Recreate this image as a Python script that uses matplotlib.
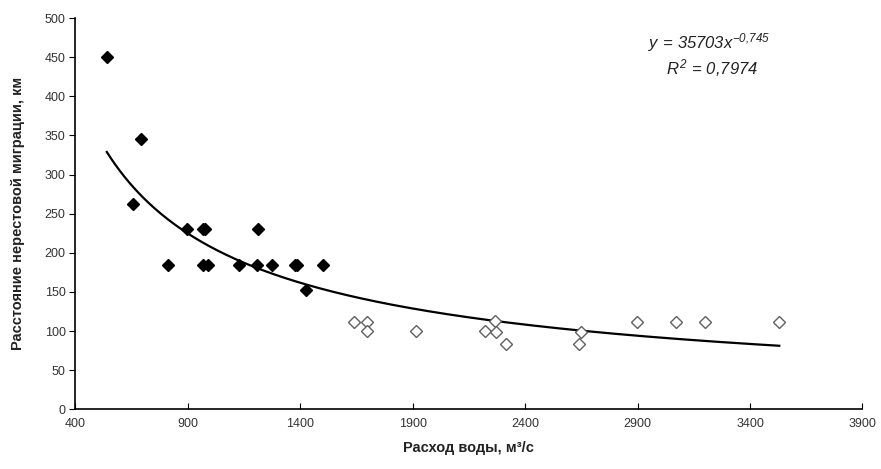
import numpy as np
import matplotlib
matplotlib.use("Agg")
import matplotlib.pyplot as plt

plt.rcParams['font.family'] = ['Liberation Sans', 'DejaVu Sans']
plt.rcParams['mathtext.fontset'] = 'custom'
plt.rcParams['mathtext.rm'] = 'Liberation Sans:italic'
plt.rcParams['mathtext.it'] = 'Liberation Sans:italic'

# filled diamonds (low discharge years)
q_low = [540, 690, 655, 813, 895, 966, 976, 969, 988, 1129, 1213, 1209, 1273, 1378, 1386, 1425, 1500]
d_low = [450, 345, 262, 185, 230, 230, 230, 185, 185, 185, 230, 185, 185, 185, 185, 152, 185]

# open diamonds (high discharge years)
q_high = [1640, 1695, 1699, 1913, 2220, 2266, 2271, 2313, 2647, 2640, 2898, 3070, 3200, 3530]
d_high = [112, 112, 100, 100, 100, 113, 99, 84, 99, 84, 112, 112, 112, 112]

# power trendline y = a * x^b
a_coef, b_coef = 35703, -0.745

xticks = [400, 900, 1400, 1900, 2400, 2900, 3400, 3900]
yticks = list(range(0, 501, 50))

fig = plt.figure(figsize=(8.81, 4.69), dpi=100)
ax = fig.add_axes([0.0855, 0.1273, 0.8935, 0.834])

q_all = np.array(q_low + q_high)
xs = np.linspace(q_all.min(), q_all.max(), 300)
ax.plot(xs, a_coef * xs ** b_coef, color='black', lw=1.6, zorder=2)

ax.plot(q_low, d_low, 'D', ms=6.5, color='black', mec='black', zorder=3, ls='none')
ax.plot(q_high, d_high, 'D', ms=6.5, mfc='white', mec='#606060', mew=1.0, zorder=3, ls='none')

ax.set_xlim(400, 3900)
ax.set_ylim(0, 500)
ax.set_xticks(xticks)
ax.set_yticks(yticks)
for s in ['top', 'right']:
    ax.spines[s].set_visible(False)
for s in ['left', 'bottom']:
    ax.spines[s].set_linewidth(1.2)
ax.tick_params(axis='x', direction='in', length=4, labelsize=9, labelcolor='#333333', pad=6)
ax.tick_params(axis='y', direction='out', length=4, labelsize=9, labelcolor='#333333', pad=3)

ax.set_xlabel('Расход воды, м³/с', fontsize=10.5, fontweight='bold', color='#222222', labelpad=8)
ax.set_ylabel('Расстояние нерестовой миграции, км', fontsize=10.5, fontweight='bold',
              color='#222222', labelpad=14)

ax.text(3218, 469, r'$y\,=\,35703x^{-0{,}745}$', fontsize=12, ha='center', va='center', color='#222222')
ax.text(3230, 436, r'$R^2\,=\,0{,}7974$', fontsize=12, ha='center', va='center', color='#222222')

fig.savefig('out.png', dpi=100)
